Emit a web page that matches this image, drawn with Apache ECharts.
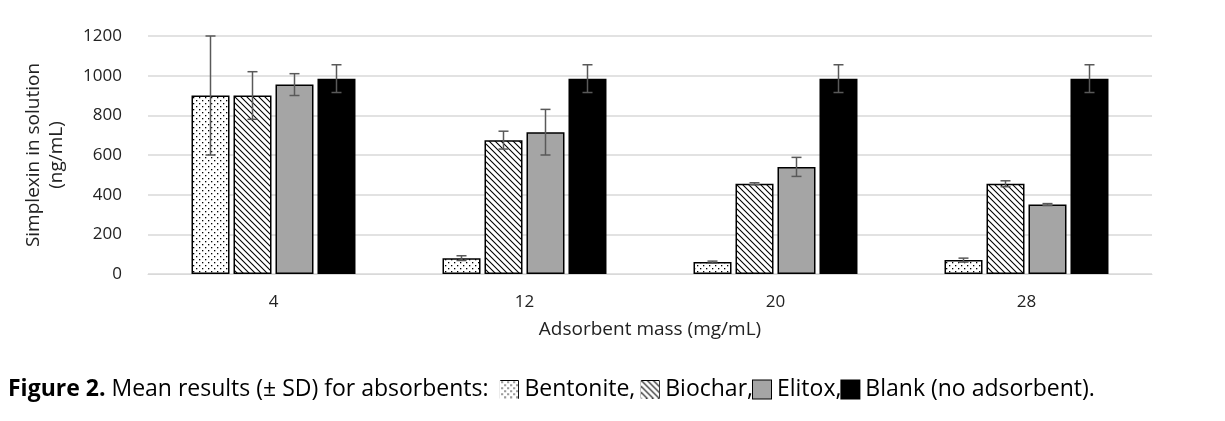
<!DOCTYPE html>
<html>
<head>
<meta charset="utf-8">
<script src="https://cdn.jsdelivr.net/npm/echarts@6/dist/echarts.min.js"></script>
<style>html,body{margin:0;padding:0;background:#fff}#chart{width:1225px;height:421px}</style>
</head>
<body>
<div id="chart"></div>
<script>
// 数据
var categories = ['4', '12', '20', '28'];
var seriesNames = ['Bentonite', 'Biochar', 'Elitox', 'Blank'];
var bentonite = [900, 80, 60, 70];
var biochar = [900, 675, 455, 455];
var elitox = [955, 715, 540, 350];
var blank = [985, 985, 985, 985];
var bentoniteSd = [300, 12, 5, 10];
var biocharSd = [120, 45, 5, 15];
var elitoxSd = [55, 115, 48, 5];
var blankSd = [70, 70, 70, 70];
var yTicks = [0, 200, 400, 600, 800, 1000, 1200];

// 填充图案
function dots(n) {
    var c = document.createElement('canvas'); c.width = n; c.height = n;
    var g = c.getContext('2d');
    g.fillStyle = '#fff'; g.fillRect(0, 0, n, n);
    g.fillStyle = '#000';
    for (var y = 0; y < n; y += 6) for (var x = 0; x < n; x += 6) {
        g.fillRect(x + 1, y + 1, 1.3, 1.3); g.fillRect(x + 4, y + 4, 1.3, 1.3);
    }
    return c;
}
function hatch(n) {
    var c = document.createElement('canvas'); c.width = n; c.height = n;
    var g = c.getContext('2d');
    g.fillStyle = '#fff'; g.fillRect(0, 0, n, n);
    g.strokeStyle = '#000'; g.lineWidth = 1.1;
    g.beginPath();
    for (var k = -n; k <= n; k += 6) { g.moveTo(k - 1, -1); g.lineTo(k + n + 1, n + 1); }
    g.stroke();
    return c;
}
var dotImg = dots(6), hatchImg = hatch(6);
var dotBox = dots(18), hatchBox = hatch(18);
var fills = [{image: dotImg, repeat: 'repeat'}, {image: hatchImg, repeat: 'repeat'}, '#a5a5a5', '#000'];
var values = [bentonite, biochar, elitox, blank];
var sds = [bentoniteSd, biocharSd, elitoxSd, blankSd];

var myChart = echarts.init(document.getElementById('chart'));
var barW = 38, step = 42;

var series = [];
values.forEach(function (v, i) {
    series.push({
        name: seriesNames[i], type: 'bar', data: v, barWidth: barW, barGap: '10.5%',
        itemStyle: {color: fills[i], borderColor: '#000', borderWidth: 1.5}
    });
});
values.forEach(function (v, i) {
    series.push({
        type: 'custom', z: 10,
        data: v.map(function (val, k) { return [k, val - sds[i][k], val + sds[i][k]]; }),
        renderItem: function (params, api) {
            var lo = api.coord([api.value(0), api.value(1)]);
            var hi = api.coord([api.value(0), api.value(2)]);
            var x = lo[0] + (i - 1.5) * step;
            var st = {stroke: '#595959', lineWidth: 1.5};
            return {type: 'group', children: [
                {type: 'line', shape: {x1: x, y1: lo[1], x2: x, y2: hi[1]}, style: st},
                {type: 'line', shape: {x1: x - 5, y1: lo[1], x2: x + 5, y2: lo[1]}, style: st},
                {type: 'line', shape: {x1: x - 5, y1: hi[1], x2: x + 5, y2: hi[1]}, style: st}
            ]};
        }
    });
});

var font = '"Open Sans", "Noto Sans", sans-serif';
var box = function (bg) { return {width: 18, height: 18, backgroundColor: bg, borderColor: '#000', borderWidth: 1}; };
var option = {
    animation: false,
    textStyle: {fontFamily: font},
    grid: {left: 148, right: 73, top: 36, bottom: 147},
    xAxis: {
        type: 'category', data: categories,
        axisLine: {lineStyle: {color: '#d9d9d9'}}, axisTick: {show: false},
        axisLabel: {color: '#222', fontSize: 17, margin: 20},
        name: 'Adsorbent mass (mg/mL)', nameLocation: 'middle', nameGap: 46,
        nameTextStyle: {color: '#222', fontSize: 19}
    },
    yAxis: {
        type: 'value', min: yTicks[0], max: yTicks[yTicks.length - 1], interval: 200,
        splitLine: {lineStyle: {color: '#d9d9d9', width: 1.5}},
        axisLabel: {color: '#222', fontSize: 17, margin: 26, formatter: function (v) { return String(v); }},
        name: 'Simplexin in solution\n(ng/mL)', nameLocation: 'middle', nameGap: 80,
        nameTextStyle: {color: '#222', fontSize: 19, lineHeight: 23}
    },
    series: series,
    graphic: [{
        type: 'text', left: 8, top: 378,
        style: {
            text: '{b|Figure 2.} Mean results (± SD) for absorbents:  {p1|} Bentonite, {p2|} Biochar,{p3|} Elitox,{p4|} Blank (no adsorbent).',
            font: '23px ' + font, fill: '#000',
            rich: {
                b: {fontWeight: 'bold', fontSize: 23, fontFamily: font},
                p1: box({image: dotBox, repeat: 'no-repeat'}),
                p2: box({image: hatchBox, repeat: 'no-repeat'}),
                p3: box('#a5a5a5'),
                p4: box('#000')
            }
        }
    }]
};
myChart.setOption(option);
</script>
</body>
</html>
